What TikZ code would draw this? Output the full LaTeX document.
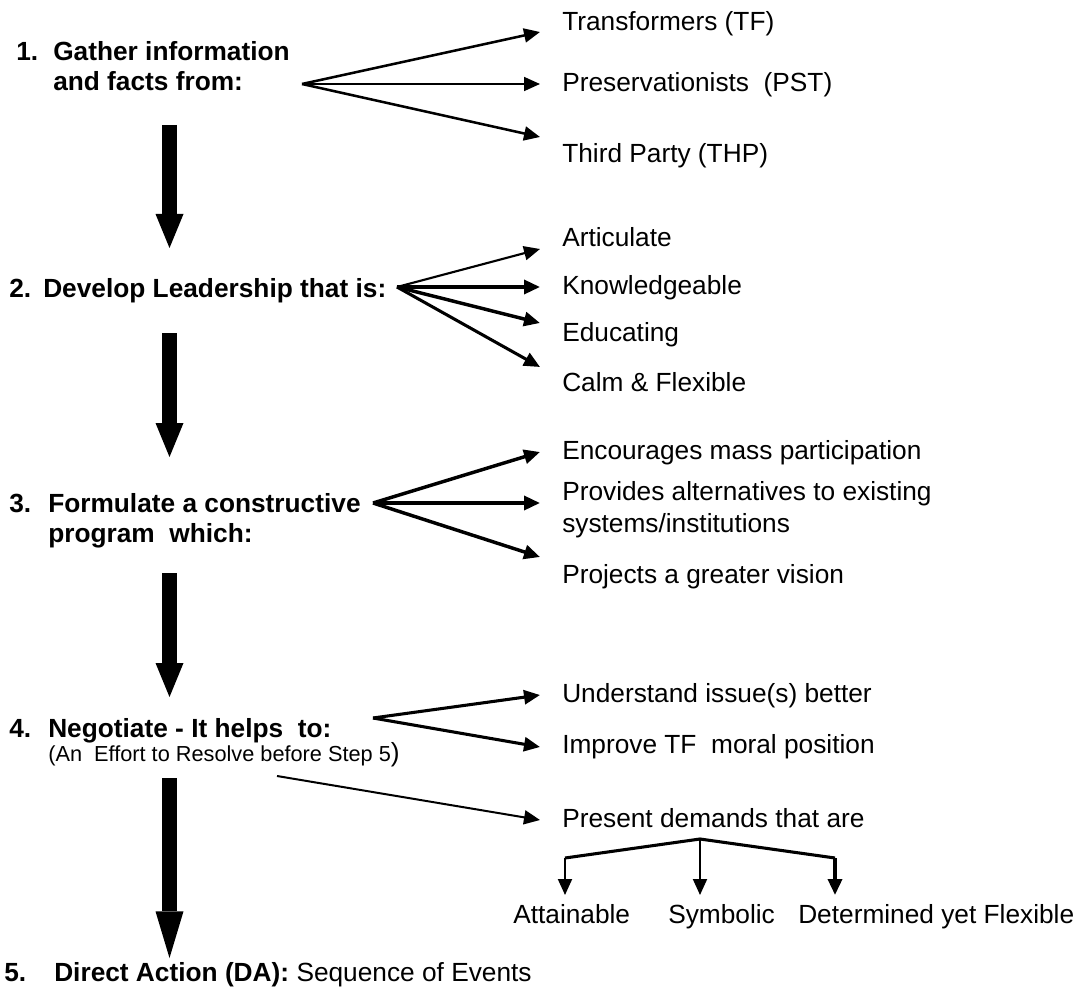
\documentclass[tikz,border=0pt]{standalone}
\usepackage{fontspec}
\setmainfont{Liberation Sans}
\usetikzlibrary{arrows.meta}
\begin{document}
\begin{tikzpicture}[x=0.75pt,y=-0.75pt,
  txt/.style={anchor=base west,inner sep=0pt,font=\fontsize{19.7}{23}\selectfont},
  stp/.style={anchor=base west,inner sep=0pt,font=\fontsize{19.7}{23}\selectfont\bfseries},
  small/.style={anchor=base west,inner sep=0pt,font=\fontsize{16.3}{19}\selectfont},
  fa/.style={line width=#1,-{Triangle[length=12pt,width=10.5pt]}},
  fa/.default=1.9pt,
  big/.style={line width=11.25pt,-{Triangle[length=#1,width=21pt,line width=0pt]}},
  big/.default=25.5pt]
\useasboundingbox (0,0) rectangle (1087,987);

% ---------- Step 1 ----------
\node[stp] (n1) at (16,61) {1.};
\node[stp] (s1a) at (53,61) {Gather information};
\node[stp] (s1b) at (53,91) {and facts from:};
\coordinate (o1) at (302,84);
\node[txt] (tf) at (562,31) {Transformers (TF)};
\node[txt] (pst) at (562,92) {Preservationists\ \ (PST)};
\node[txt] (thp) at (562,163) {Third Party (THP)};
\coordinate (t1a) at (540,32);
\coordinate (t1b) at (540,84);
\coordinate (t1c) at (540,137);
\draw[fa=1.9pt] (o1) -- (t1a);
\draw[fa=1.3pt] (o1) -- (t1b);
\draw[fa=1.9pt] (o1) -- (t1c);

% big arrow 1
\coordinate (b1s) at (169.5,125);
\coordinate (b1e) at (169.5,248);
\draw[big] (b1s) -- (b1e);

% ---------- Step 2 ----------
\node[stp] (n2) at (9,297) {2.};
\node[stp] (s2) at (43,297) {Develop Leadership that is:};
\coordinate (o2) at (397,287);
\node[txt] (art) at (562,247) {Articulate};
\node[txt] (kno) at (562,295) {Knowledgeable};
\node[txt] (edu) at (562,341) {Educating};
\node[txt] (cal) at (562,391) {Calm \& Flexible};
\coordinate (t2a) at (540,249);
\coordinate (t2b) at (540,287);
\coordinate (t2c) at (540,323);
\coordinate (t2d) at (540,367);
\draw[fa=1.6pt] (o2) -- (t2a);
\draw[fa=2.6pt] (o2) -- (t2b);
\draw[fa=2.6pt] (o2) -- (t2c);
\draw[fa=2.3pt] (o2) -- (t2d);

% big arrow 2
\coordinate (b2s) at (169.5,333);
\coordinate (b2e) at (169.5,457);
\draw[big] (b2s) -- (b2e);

% ---------- Step 3 ----------
\node[stp] (n3) at (9,512) {3.};
\node[stp] (s3a) at (48,512) {Formulate a constructive};
\node[stp] (s3b) at (48,542) {program\ \ which:};
\coordinate (o3) at (373,503);
\node[txt] (enc) at (562,459) {Encourages mass participation};
\node[txt] (pro) at (562,500) {Provides alternatives to existing};
\node[txt] (sys) at (562,532) {systems/institutions};
\node[txt] (prj) at (562,583) {Projects a greater vision};
\coordinate (t3a) at (540,452);
\coordinate (t3b) at (540,503);
\coordinate (t3c) at (540,557);
\draw[fa=2.6pt] (o3) -- (t3a);
\draw[fa=2.6pt] (o3) -- (t3b);
\draw[fa=2.6pt] (o3) -- (t3c);

% big arrow 3
\coordinate (b3s) at (169.5,573);
\coordinate (b3e) at (169.5,697);
\draw[big] (b3s) -- (b3e);

% ---------- Step 4 ----------
\node[stp] (n4) at (9,737) {4.};
\node[stp] (s4) at (48,737) {Negotiate - It helps\ \ to:};
\node[small] (s4n) at (48,761) {(An\ \ Effort to Resolve before Step 5{\fontsize{19.7}{23}\selectfont )}};
\coordinate (o4) at (373,718);
\node[txt] (und) at (562,702) {Understand issue(s) better};
\node[txt] (imp) at (562,753) {Improve TF\ \ moral position};
\node[txt] (pre) at (562,827) {Present demands that are};
\coordinate (t4a) at (540,695);
\coordinate (t4b) at (540,747);
\draw[fa=2.3pt] (o4) -- (t4a);
\draw[fa=2.3pt] (o4) -- (t4b);
\coordinate (o4c) at (277,776);
\coordinate (t4c) at (540,820);
\draw[fa=1.5pt] (o4c) -- (t4c);

% demands tree
\coordinate (apx) at (700,839);
\coordinate (dl) at (565,858);
\coordinate (dr) at (835,858);
\draw[line width=2.3pt,line join=miter] (dl) -- (apx) -- (dr);
\coordinate (dlt) at (565,895);
\coordinate (dmt) at (700,895);
\coordinate (drt) at (835,895);
\draw[fa=1.5pt] (dl) -- (dlt);
\draw[fa=1.5pt] (apx) -- (dmt);
\draw[fa=2.6pt] (dr) -- (drt);
\node[txt] (att) at (513,923) {Attainable};
\node[txt] (sym) at (668,923) {Symbolic};
\node[txt] (det) at (798,923) {Determined yet Flexible};

% big arrow 4
\coordinate (b4s) at (169.5,778);
\coordinate (b4e) at (169.5,958);
\draw[big=35pt] (b4s) -- (b4e);

% ---------- Step 5 ----------
\node[stp] (n5) at (4,981) {5.};
\node[txt] (s5) at (54,981) {\bfseries Direct Action (DA):\mdseries\ Sequence of Events};
\end{tikzpicture}
\end{document}
